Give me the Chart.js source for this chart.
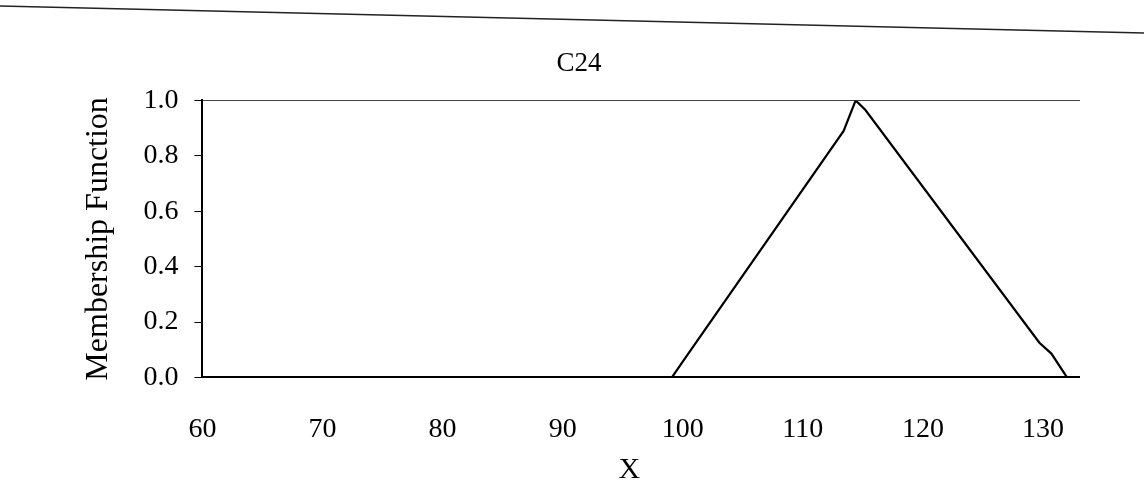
<!DOCTYPE html>
<html>
<head>
<meta charset="utf-8">
<title>C24</title>
<script src="https://cdn.jsdelivr.net/npm/chart.js@4"></script>
<style>
  html, body { margin:0; padding:0; background:#fff; }
  #wrap { width:1144px; height:490px; }
</style>
</head>
<body>
<div id="wrap"><canvas id="c24"></canvas></div>
<script>
// ===== Data =====
const xVals = [60, 99.1, 100.0, 113.4, 114.4, 115.2, 129.7, 130.7, 132.0];
const muVals = [0, 0, 0.057, 0.89, 1.0, 0.966, 0.125, 0.086, 0];
const xTicks = [60, 70, 80, 90, 100, 110, 120, 130];
const yTicks = [0, 0.2, 0.4, 0.6, 0.8, 1.0];

const X_MIN = 60, X_MAX = 133;
const FONT = '"Liberation Serif", "DejaVu Serif", serif';

// white page + the edge line across the top of the scan
const pageEdge = {
  id: 'pageEdge',
  beforeDraw(chart) {
    const ctx = chart.ctx;
    ctx.save();
    ctx.fillStyle = '#fff';
    ctx.fillRect(0, 0, chart.width, chart.height);
    ctx.strokeStyle = '#222';
    ctx.lineWidth = 1.5;
    ctx.beginPath();
    ctx.moveTo(0, 6);
    ctx.lineTo(chart.width, 33);
    ctx.stroke();
    ctx.restore();
  }
};

const points = xVals.map((x, i) => ({ x, y: muVals[i] }));

new Chart(document.getElementById('c24'), {
  type: 'line',
  data: {
    datasets: [{
      data: points,
      borderColor: '#000',
      borderWidth: 2.2,
      pointRadius: 0,
      tension: 0,
      fill: false
    }]
  },
  options: {
    animation: false, responsive: true, maintainAspectRatio: false,
    layout: { padding: { left: 79, right: 65, top: 0, bottom: 0 } },
    plugins: {
      legend: { display: false },
      tooltip: { enabled: false },
      title: {
        display: true, text: 'C24', color: '#000',
        font: { family: FONT, size: 27, weight: 'normal' },
        padding: { top: 48, bottom: 20 }
      }
    },
    scales: {
      x: {
        type: 'linear', min: X_MIN, max: X_MAX,
        afterBuildTicks: s => { s.ticks = xTicks.map(v => ({ value: v })); },
        // invisible tick marks just push the labels down
        grid: { display: true, drawOnChartArea: false, drawTicks: true, tickLength: 29, tickColor: 'rgba(0,0,0,0)' },
        border: { display: true, color: '#000', width: 2 },
        ticks: { color: '#000', padding: 6, font: { family: FONT, size: 28 } },
        title: {
          display: true, text: 'X   ', color: '#000',
          font: { family: FONT, size: 30 }, padding: { top: 0, bottom: 2 }
        }
      },
      x2: {
        type: 'linear', position: 'top', min: X_MIN, max: X_MAX,
        grid: { display: false, drawTicks: false },
        border: { display: true, color: '#444', width: 1, dash: [16, 3] },
        ticks: { display: false }
      },
      y: {
        type: 'linear', min: 0, max: 1,
        afterBuildTicks: s => { s.ticks = yTicks.map(v => ({ value: v })); },
        grid: { drawOnChartArea: false, drawTicks: true, tickLength: 8, color: '#000', width: 1 },
        border: { display: true, color: '#000', width: 2 },
        ticks: {
          color: '#000', padding: 16, font: { family: FONT, size: 28 },
          callback: v => Number(v).toFixed(1)
        },
        title: {
          display: true, text: 'Membership Function', color: '#000',
          font: { family: FONT, size: 32 }, padding: { top: 0, bottom: 10 }
        }
      }
    }
  },
  plugins: [pageEdge]
});
</script>
</body>
</html>
